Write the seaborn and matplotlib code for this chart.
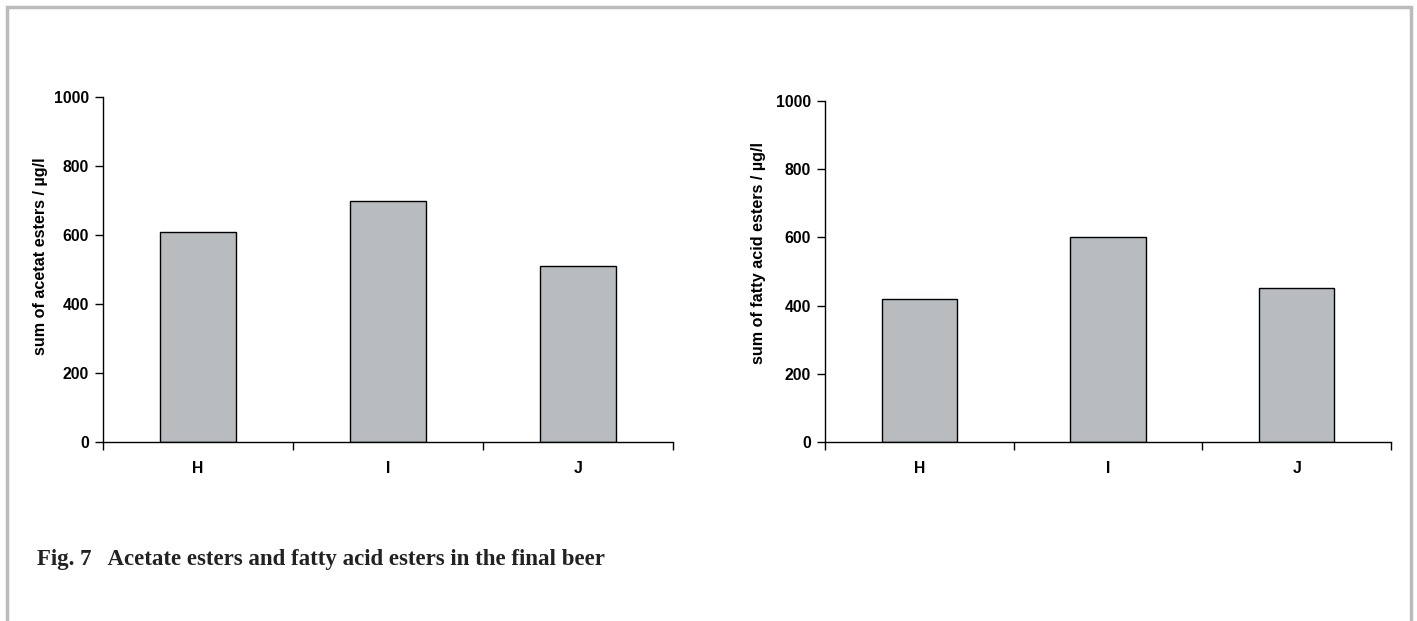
import pandas as pd
import matplotlib.pyplot as plt
import seaborn as sns
from matplotlib.patches import Rectangle

# data
beers = ['H', 'I', 'J']
acetate_esters = [610, 700, 510]
fatty_acid_esters = [420, 601, 452]

df = pd.DataFrame({'beer': beers,
                   'acetate': acetate_esters,
                   'fatty': fatty_acid_esters})

sns.set_style('white')
plt.rcParams['font.family'] = ['Liberation Sans', 'DejaVu Sans']
plt.rcParams['text.color'] = 'black'

fig = plt.figure(figsize=(14.17, 6.21), dpi=100)
ax1 = fig.add_axes([0.0727, 0.2882, 0.4023, 0.5556])
ax2 = fig.add_axes([0.5822, 0.2882, 0.3995, 0.5492])

bar_color = '#b8bcbf'
panels = [(ax1, 'acetate', 'sum of acetat esters / µg/l', -0.097, 0.54),
          (ax2, 'fatty', 'sum of fatty acid esters / µg/l', -0.105, 0.553)]

for ax, col, label, xpos, ypos in panels:
    sns.barplot(data=df, x='beer', y=col, ax=ax, color=bar_color,
                width=0.4, edgecolor='black', linewidth=1.0, saturation=1)
    ax.set_xlim(-0.5, 2.5)
    ax.set_ylim(0, 1000)
    ax.set_yticks([0, 200, 400, 600, 800, 1000])
    ax.set_xticks([-0.5, 0.5, 1.5, 2.5], minor=True)
    ax.tick_params(axis='x', which='major', bottom=False, length=0, pad=14,
                   labelcolor='black')
    ax.tick_params(axis='x', which='minor', bottom=True, length=6, width=1,
                   direction='out', color='black')
    ax.tick_params(axis='y', left=True, length=6, width=1, direction='out',
                   color='black', pad=4, labelcolor='black')
    for t in ax.get_xticklabels() + ax.get_yticklabels():
        t.set_fontweight('bold')
        t.set_fontsize(11.3)
    ax.set_xlabel('')
    ax.set_ylabel(label, fontsize=11.6, fontweight='bold', color='black')
    ax.yaxis.set_label_coords(xpos, ypos)
    sns.despine(ax=ax)
    for s in ['left', 'bottom']:
        ax.spines[s].set_color('black')
        ax.spines[s].set_linewidth(1)

# caption
fig.text(37 / 1417, 1 - 560 / 621, 'Fig. 7   Acetate esters and fatty acid esters in the final beer',
         fontsize=16.5, fontweight='bold', va='center', color='#222222',
         family=['Liberation Serif', 'DejaVu Serif'])

# grey frame around the figure
fig.patches.append(Rectangle((7 / 1417, -0.05), (1411 - 7) / 1417, 1.05 - 7 / 621,
                             transform=fig.transFigure, fill=False,
                             edgecolor='#bbbbbb', linewidth=2.5))

plt.savefig('out.png', dpi=100)
